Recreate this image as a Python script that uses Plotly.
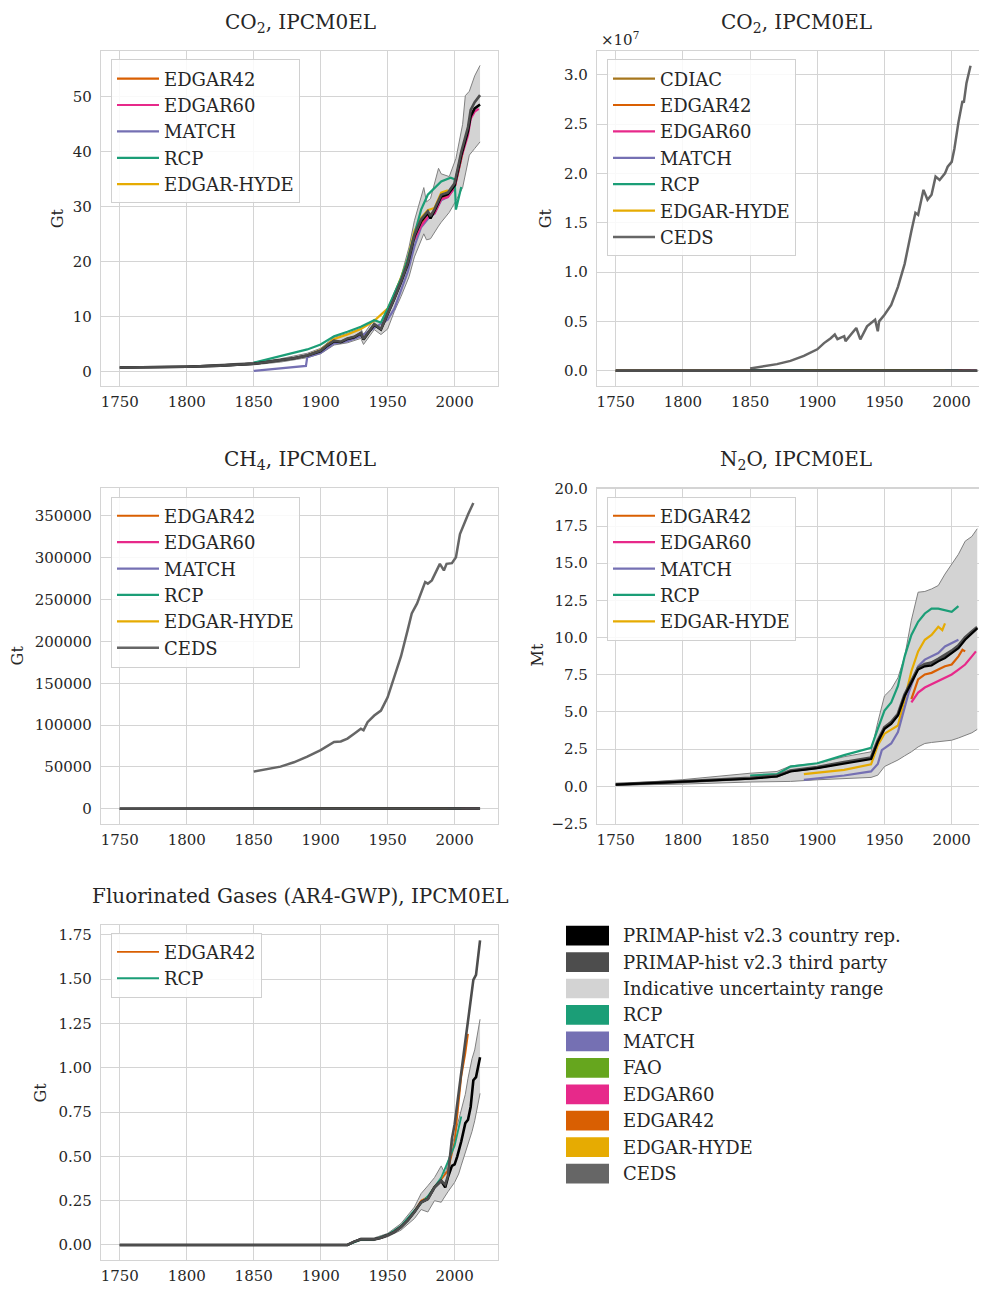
import plotly.graph_objects as go

# The page body keeps an 8 px margin, so the figure is drawn 16 px smaller
# and every reference pixel position is shifted by this offset.
OFF = 8
W, H = 987 - 2 * OFF, 1295 - 2 * OFF
FONT = "DejaVu Serif"
TXT = "#262626"
GRID = "#d4d4d4"

COL = {
    "PRIMAP-hist v2.3 country rep.": "#000000",
    "PRIMAP-hist v2.3 third party": "#4d4d4d",
    "Indicative uncertainty range": "#d3d3d3",
    "RCP": "#1b9e77",
    "MATCH": "#7570b3",
    "FAO": "#66a61e",
    "EDGAR60": "#e7298a",
    "EDGAR42": "#d95f02",
    "EDGAR-HYDE": "#e6ab02",
    "CEDS": "#666666",
    "CDIAC": "#a6761d",
}

# ---------------- data: CO2 (Gt) ----------------
co2_years_primap = [1750, 1775, 1800, 1825, 1850, 1860, 1870, 1880, 1890, 1900, 1905, 1910, 1915, 1920,
                    1925, 1930, 1932, 1935, 1940, 1945, 1950, 1955, 1960, 1965, 1970, 1975, 1980, 1982,
                    1985, 1990, 1995, 2000, 2005, 2010, 2012, 2015, 2019]
co2_primap_cr = [0.8, 0.85, 0.95, 1.15, 1.5, 1.8, 2.1, 2.5, 3.0, 3.8, 4.8, 5.6, 5.4, 6.0,
                 6.3, 7.0, 5.9, 7.0, 8.6, 7.7, 10.4, 13.3, 16.3, 19.6, 24.6, 27.4, 28.9, 27.9,
                 29.3, 31.9, 32.3, 33.9, 39.4, 43.8, 46.5, 47.9, 48.6]
co2_primap_tp = [0.8, 0.85, 0.95, 1.15, 1.5, 1.8, 2.1, 2.5, 3.0, 3.9, 4.9, 5.7, 5.5, 6.1,
                 6.4, 7.1, 6.0, 7.1, 8.7, 7.8, 10.5, 13.4, 16.5, 19.8, 24.9, 27.7, 29.2, 28.3,
                 29.6, 32.2, 32.6, 34.3, 40.0, 44.5, 47.6, 49.0, 50.3]
co2_band_years = [1750, 1800, 1850, 1870, 1890, 1900, 1910, 1920, 1930, 1932, 1940, 1945, 1950, 1955,
                  1960, 1966, 1970, 1977, 1979, 1982, 1988, 1990, 1996, 2001, 2006, 2008, 2011, 2015, 2019]
co2_band_upper = [0.9, 1.05, 1.75, 2.4, 3.4, 4.3, 6.3, 7.0, 7.9, 6.8, 9.6, 8.8, 11.3, 14.5,
                  17.3, 22.7, 27.5, 33.5, 30.9, 31.5, 37.0, 36.0, 35.5, 38.8, 45.0, 50.2, 51.0, 53.8, 55.7]
co2_band_lower = [0.7, 0.85, 1.3, 1.8, 2.6, 3.3, 4.9, 5.3, 6.1, 5.0, 7.7, 6.8, 7.8, 11.0,
                  13.7, 17.3, 20.9, 25.1, 24.0, 24.2, 26.5, 27.2, 29.0, 31.1, 33.5, 36.0, 39.4, 40.6, 41.8]
co2_rcp_years = [1850, 1870, 1890, 1900, 1910, 1920, 1930, 1940, 1945, 1950, 1960, 1965, 1970, 1975,
                 1980, 1990, 1997, 2000, 2001, 2005]
co2_rcp = [1.7, 2.9, 4.1, 5.0, 6.5, 7.3, 8.2, 9.4, 9.0, 11.5, 17.0, 20.5, 24.8, 29.5,
           32.2, 34.6, 35.3, 35.0, 29.5, 33.6]
co2_match_years = [1850, 1889, 1890, 1900, 1910, 1920, 1930, 1940, 1950, 1955, 1960, 1965, 1970, 1975,
                   1980, 1985, 1990, 1995, 2000, 2005]
co2_match = [0.2, 1.1, 2.7, 3.5, 5.2, 5.6, 6.5, 8.0, 9.5, 11.5, 14.8, 18.2, 22.8, 26.3,
             27.8, 28.8, 31.2, 31.8, 33.4, 38.8]
co2_hyde_years = [1890, 1900, 1910, 1920, 1930, 1940, 1950, 1955, 1960, 1965, 1970, 1975, 1980, 1985,
                  1990, 1995]
co2_hyde = [3.0, 4.0, 6.0, 6.8, 7.8, 9.3, 11.5, 14.0, 17.2, 20.5, 25.6, 28.0, 29.4, 29.8, 32.6, 33.0]
co2_e42_years = [1970, 1975, 1980, 1985, 1990, 1995, 2000, 2005, 2008]
co2_e42 = [24.3, 27.0, 28.5, 29.0, 31.5, 32.0, 33.5, 39.0, 42.0]
co2_e60_years = [1970, 1975, 1980, 1985, 1990, 1995, 2000, 2005, 2010, 2012, 2015, 2018]
co2_e60 = [24.0, 26.5, 28.2, 28.8, 31.4, 31.8, 33.5, 39.0, 43.0, 46.0, 47.3, 47.8]
co2_cdiac_years = [1750, 1800, 1850, 1900, 1950, 2000, 2014]
co2_cdiac = [0.01, 0.03, 0.2, 2.0, 6.0, 25.0, 36.0]

# CEDS CO2 in its own (mis-scaled) units
ceds_co2_years = [1850, 1870, 1880, 1890, 1900, 1905, 1910, 1913, 1915, 1920, 1921, 1925, 1929, 1932,
                  1937, 1940, 1943, 1945, 1946, 1950, 1955, 1960, 1965, 1970, 1973, 1975, 1979, 1982,
                  1985, 1988, 1991, 1995, 1997, 2000, 2002, 2005, 2008, 2009, 2011, 2014]
ceds_co2 = [230000, 670000, 1000000, 1500000, 2170000, 2800000, 3300000, 3670000, 3200000, 3500000,
            3000000, 3670000, 4330000, 3170000, 4500000, 4830000, 5170000, 4000000, 5000000, 5670000,
            6670000, 8500000, 10830000, 14170000, 16000000, 15800000, 18330000, 17330000, 17830000,
            19670000, 19330000, 20000000, 20670000, 21170000, 22500000, 25170000, 27330000, 27170000,
            29170000, 30900000]

# ---------------- data: CH4 ----------------
ceds_ch4_years = [1850, 1860, 1870, 1880, 1890, 1900, 1910, 1915, 1920, 1925, 1930, 1932, 1935, 1940,
                  1942, 1945, 1950, 1955, 1960, 1965, 1968, 1972, 1975, 1978, 1980, 1983, 1986, 1989,
                  1992, 1994, 1998, 2001, 2004, 2006, 2008, 2010, 2014]
ceds_ch4 = [44500, 47300, 50400, 55600, 62300, 70100, 80000, 80500, 83900, 89800, 95700, 93800, 103600,
            111500, 113500, 117400, 133200, 158800, 182400, 213900, 233600, 245500, 257300, 271100,
            269100, 273000, 282900, 292800, 284900, 292800, 293600, 300700, 328300, 336100, 345900,
            351800, 365600]
ch4_years = [1750, 1850, 1900, 1950, 2000, 2019]
ch4_primap_cr = [60, 110, 150, 230, 330, 370]
ch4_primap_tp = [60, 110, 150, 230, 330, 370]
ch4_rcp_years = [1850, 1900, 1950, 2000, 2005]
ch4_rcp = [130, 170, 250, 330, 340]
ch4_match_years = [1890, 1950, 2000, 2005]
ch4_match = [140, 230, 320, 330]
ch4_hyde_years = [1890, 1950, 1995]
ch4_hyde = [150, 240, 320]
ch4_e42_years = [1970, 2000, 2008]
ch4_e42 = [300, 340, 360]
ch4_e60_years = [1970, 2000, 2018]
ch4_e60 = [290, 330, 380]

# ---------------- data: N2O (Mt) ----------------
n2o_years_primap = [1750, 1800, 1850, 1870, 1880, 1900, 1920, 1940, 1945, 1950, 1955, 1960, 1965, 1970,
                    1975, 1980, 1985, 1990, 1995, 2000, 2005, 2010, 2015, 2019]
n2o_primap_cr = [0.11, 0.29, 0.51, 0.66, 1.0, 1.22, 1.55, 1.84, 2.99, 3.87, 4.2, 4.76, 6.08, 6.97,
                 7.85, 8.07, 8.12, 8.4, 8.63, 8.96, 9.29, 9.85, 10.29, 10.62]
n2o_primap_tp = [0.13, 0.31, 0.55, 0.7, 1.05, 1.28, 1.62, 1.92, 3.05, 3.95, 4.3, 4.85, 6.15, 7.05,
                 7.95, 8.2, 8.3, 8.55, 8.8, 9.1, 9.45, 10.0, 10.4, 10.7]
n2o_band_upper = [0.15, 0.45, 0.88, 1.0, 1.37, 1.55, 1.99, 2.32, 4.31, 6.08, 6.53, 7.3, 8.74, 11.17,
                  13.05, 13.1, 13.27, 13.5, 14.27, 14.93, 15.6, 16.48, 16.8, 17.32]
n2o_band_lower = [0.07, 0.15, 0.29, 0.31, 0.33, 0.44, 0.51, 0.6, 0.75, 1.33, 1.55, 1.77, 2.05, 2.32,
                  2.65, 2.88, 2.95, 2.99, 3.05, 3.1, 3.25, 3.43, 3.6, 3.83]
n2o_rcp_years = [1850, 1870, 1880, 1900, 1920, 1940, 1945, 1950, 1955, 1960, 1965, 1970, 1975, 1980,
                 1985, 1990, 2000, 2005]
n2o_rcp = [0.73, 0.82, 1.33, 1.55, 2.1, 2.59, 3.87, 5.09, 5.64, 6.75, 8.74, 10.18, 11.06, 11.62,
           11.95, 11.95, 11.73, 12.12]
n2o_hyde_years = [1890, 1920, 1940, 1945, 1950, 1960, 1965, 1970, 1975, 1980, 1985, 1990, 1993, 1995]
n2o_hyde = [0.82, 1.11, 1.48, 2.77, 3.54, 4.09, 5.86, 7.74, 9.07, 9.85, 10.18, 10.73, 10.5, 10.95]
n2o_match_years = [1890, 1920, 1940, 1945, 1948, 1955, 1960, 1965, 1968, 1975, 1980, 1990, 1995, 2005]
n2o_match = [0.44, 0.73, 1.0, 1.5, 2.43, 2.88, 3.65, 5.42, 6.3, 8.07, 8.52, 8.96, 9.4, 9.85]
n2o_e42_years = [1970, 1975, 1980, 1985, 1990, 1995, 2000, 2005, 2008, 2010]
n2o_e42 = [5.86, 7.19, 7.52, 7.63, 7.85, 8.07, 8.19, 8.74, 9.18, 9.07]
n2o_e60_years = [1970, 1975, 1980, 1985, 1990, 1995, 2000, 2005, 2010, 2015, 2018]
n2o_e60 = [5.64, 6.3, 6.64, 6.86, 7.08, 7.3, 7.52, 7.85, 8.19, 8.74, 9.07]

# ---------------- data: F-gases (Gt) ----------------
fg_years_primap = [1750, 1800, 1850, 1900, 1920, 1925, 1930, 1940, 1945, 1950, 1955, 1960, 1965, 1970,
                   1975, 1980, 1985, 1990, 1993, 1995, 1998, 2000, 2002, 2005, 2008, 2010, 2012, 2014,
                   2016, 2019]
fg_primap_cr = [0, 0, 0, 0, 0, 0.019, 0.032, 0.032, 0.041, 0.056, 0.074, 0.102, 0.139, 0.186,
                0.241, 0.26, 0.325, 0.362, 0.325, 0.381, 0.446, 0.455, 0.5, 0.585, 0.687, 0.706,
                0.78, 0.929, 0.947, 1.059]
fg_primap_tp = [0, 0, 0, 0, 0, 0.019, 0.032, 0.032, 0.041, 0.056, 0.074, 0.102, 0.139, 0.186,
                0.241, 0.26, 0.325, 0.362, 0.34, 0.39, 0.6, 0.68, 0.8, 1.0, 1.15, 1.263,
                1.375, 1.495, 1.523, 1.718]
fg_band_years = [1750, 1900, 1920, 1930, 1940, 1950, 1960, 1970, 1975, 1980, 1985, 1990, 1993, 1995,
                 2000, 2003, 2005, 2008, 2010, 2013, 2015, 2019]
fg_band_upper = [0.002, 0.002, 0.003, 0.04, 0.04, 0.065, 0.121, 0.214, 0.29, 0.334, 0.38, 0.446, 0.40,
                 0.47, 0.613, 0.70, 0.75, 0.85, 0.94, 1.05, 1.10, 1.273]
fg_band_lower = [0, 0, 0, 0.025, 0.025, 0.046, 0.084, 0.149, 0.20, 0.186, 0.25, 0.241, 0.28, 0.30,
                 0.353, 0.40, 0.45, 0.52, 0.576, 0.64, 0.70, 0.855]
fg_rcp_years = [1850, 1920, 1930, 1940, 1950, 1960, 1970, 1980, 1990, 2000, 2005]
fg_rcp = [0, 0, 0.03, 0.032, 0.058, 0.108, 0.195, 0.275, 0.38, 0.56, 0.725]
fg_e42_years = [1970, 1975, 1980, 1985, 1990, 1995, 2000, 2005, 2008, 2010]
fg_e42 = [0.19, 0.25, 0.27, 0.33, 0.37, 0.42, 0.58, 0.95, 1.08, 1.19]

# ---------------- tick labels ----------------
x_ticks = [1750, 1800, 1850, 1900, 1950, 2000]
co2_yticks = [0, 10, 20, 30, 40, 50]
ceds_yticks = [0, 5e6, 1e7, 1.5e7, 2e7, 2.5e7, 3e7]
ceds_yticktext = ["0.0", "0.5", "1.0", "1.5", "2.0", "2.5", "3.0"]
ch4_yticks = [0, 50000, 100000, 150000, 200000, 250000, 300000, 350000]
n2o_yticks = [-2.5, 0, 2.5, 5, 7.5, 10, 12.5, 15, 17.5, 20]
fg_yticks = [0, 0.25, 0.5, 0.75, 1.0, 1.25, 1.5, 1.75]

legend_labels = ["PRIMAP-hist v2.3 country rep.", "PRIMAP-hist v2.3 third party",
                 "Indicative uncertainty range", "RCP", "MATCH", "FAO", "EDGAR60", "EDGAR42",
                 "EDGAR-HYDE", "CEDS"]

# ---------------- layout geometry (reference pixels) ----------------
panels = {
    1: dict(x0=101, x1=498, y0=43, y1=383, xr=[1736.0, 2032.4], yr=[-2.55, 58.4]),
    2: dict(x0=597, x1=979, y0=43, y1=383, xr=[1736.1, 2020.3], yr=[-1.55e6, 3.245e7]),
    3: dict(x0=101, x1=498, y0=486, y1=827, xr=[1736.0, 2032.4], yr=[-18280, 383880]),
    4: dict(x0=597, x1=979, y0=486, y1=827, xr=[1736.1, 2020.3], yr=[-2.54, 20.08]),
    5: dict(x0=101, x1=498, y0=929, y1=1269, xr=[1736.0, 2032.4], yr=[-0.086, 1.806]),
}


def px(x):
    return min(max((x - OFF) / W, 0.0), 1.0)


def py(y):
    return min(max(1 - (y - OFF) / H, 0.0), 1.0)


fig = go.Figure()


def ax(i, c):
    return c if i == 1 else f"{c}{i}"


def leg(i):
    return "legend" if i == 1 else f"legend{i}"


def line(i, x, y, name, width=2.2, rank=None, show=False, color=None):
    fig.add_trace(go.Scatter(
        x=x, y=y, mode="lines", name=name,
        line=dict(color=color or COL[name], width=width),
        xaxis=ax(i, "x"), yaxis=ax(i, "y"),
        legend=leg(i), showlegend=show, legendgroup=f"{i}-{name}",
        legendrank=rank if rank else 1000, hoverinfo="skip"))


def band(i, x, lo, hi):
    fig.add_trace(go.Scatter(x=x, y=lo, mode="lines", line=dict(color="#808080", width=1),
                             xaxis=ax(i, "x"), yaxis=ax(i, "y"), showlegend=False, hoverinfo="skip"))
    fig.add_trace(go.Scatter(x=x, y=hi, mode="lines", line=dict(color="#808080", width=1),
                             fill="tonexty", fillcolor=COL["Indicative uncertainty range"],
                             xaxis=ax(i, "x"), yaxis=ax(i, "y"), showlegend=False, hoverinfo="skip"))


PR_CR = "PRIMAP-hist v2.3 country rep."
PR_TP = "PRIMAP-hist v2.3 third party"

# Panel 1
band(1, co2_band_years, co2_band_lower, co2_band_upper)
line(1, co2_match_years, co2_match, "MATCH", rank=3, show=True)
line(1, co2_hyde_years, co2_hyde, "EDGAR-HYDE", rank=5, show=True)
line(1, co2_e42_years, co2_e42, "EDGAR42", rank=1, show=True)
line(1, co2_e60_years, co2_e60, "EDGAR60", rank=2, show=True)
line(1, co2_rcp_years, co2_rcp, "RCP", rank=4, show=True)
line(1, co2_years_primap, co2_primap_cr, PR_CR, width=2.6)
line(1, co2_years_primap, co2_primap_tp, PR_TP, width=2.6)

# Panel 2
line(2, co2_cdiac_years, co2_cdiac, "CDIAC", rank=1, show=True)
line(2, co2_e42_years, co2_e42, "EDGAR42", rank=2, show=True)
line(2, co2_e60_years, co2_e60, "EDGAR60", rank=3, show=True)
line(2, co2_match_years, co2_match, "MATCH", rank=4, show=True)
line(2, co2_rcp_years, co2_rcp, "RCP", rank=5, show=True)
line(2, co2_hyde_years, co2_hyde, "EDGAR-HYDE", rank=6, show=True)
line(2, ceds_co2_years, ceds_co2, "CEDS", width=2.5, rank=7, show=True)
line(2, co2_years_primap, co2_primap_cr, PR_CR, width=2.6)
line(2, co2_years_primap, co2_primap_tp, PR_TP, width=2.6)

# Panel 3
line(3, ch4_e42_years, ch4_e42, "EDGAR42", rank=1, show=True)
line(3, ch4_e60_years, ch4_e60, "EDGAR60", rank=2, show=True)
line(3, ch4_match_years, ch4_match, "MATCH", rank=3, show=True)
line(3, ch4_rcp_years, ch4_rcp, "RCP", rank=4, show=True)
line(3, ch4_hyde_years, ch4_hyde, "EDGAR-HYDE", rank=5, show=True)
line(3, ceds_ch4_years, ceds_ch4, "CEDS", width=2.5, rank=6, show=True)
line(3, ch4_years, ch4_primap_cr, PR_CR, width=2.6)
line(3, ch4_years, ch4_primap_tp, PR_TP, width=2.6)

# Panel 4
band(4, n2o_years_primap, n2o_band_lower, n2o_band_upper)
line(4, n2o_rcp_years, n2o_rcp, "RCP", rank=4, show=True)
line(4, n2o_hyde_years, n2o_hyde, "EDGAR-HYDE", rank=5, show=True)
line(4, n2o_match_years, n2o_match, "MATCH", rank=3, show=True)
line(4, n2o_years_primap, n2o_primap_tp, PR_TP, width=3.2)
line(4, n2o_years_primap, n2o_primap_cr, PR_CR, width=2.2)
line(4, n2o_e42_years, n2o_e42, "EDGAR42", rank=1, show=True)
line(4, n2o_e60_years, n2o_e60, "EDGAR60", rank=2, show=True)

# Panel 5
band(5, fg_band_years, fg_band_lower, fg_band_upper)
line(5, fg_e42_years, fg_e42, "EDGAR42", width=1.8, rank=1, show=True)
line(5, fg_rcp_years, fg_rcp, "RCP", width=1.8, rank=2, show=True)
line(5, fg_years_primap, fg_primap_cr, PR_CR, width=2.6)
line(5, fg_years_primap, fg_primap_tp, PR_TP, width=2.6)

# ---------------- axes ----------------
ytick_cfg = {
    1: dict(tickvals=co2_yticks, ticktext=[str(v) for v in co2_yticks]),
    2: dict(tickvals=ceds_yticks, ticktext=ceds_yticktext),
    3: dict(tickvals=ch4_yticks, ticktext=[str(v) for v in ch4_yticks]),
    4: dict(tickvals=n2o_yticks, ticktext=[f"{v:.1f}".replace("-", "\u2212") for v in n2o_yticks]),
    5: dict(tickvals=fg_yticks, ticktext=[f"{v:.2f}" for v in fg_yticks]),
}
layout = dict(width=W, height=H, margin=dict(l=0, r=0, t=0, b=0, pad=0),
              paper_bgcolor="white", plot_bgcolor="white",
              font=dict(family=FONT, color=TXT, size=15))
for i, p in panels.items():
    right_cut = p["x1"] >= 979
    layout[ax(i, "xaxis")] = dict(
        domain=[px(p["x0"]), px(p["x1"])], range=p["xr"], anchor=ax(i, "y"),
        tickvals=x_ticks, ticktext=[str(v) for v in x_ticks],
        showgrid=True, gridcolor=GRID, gridwidth=1, zeroline=False,
        showline=True, linecolor=GRID, linewidth=1.2, mirror=True,
        ticks="outside", ticklen=2, tickcolor="rgba(0,0,0,0)",
        tickfont=dict(family=FONT, size=15, color=TXT))
    layout[ax(i, "yaxis")] = dict(
        domain=[py(p["y1"]), py(p["y0"])], range=p["yr"], anchor=ax(i, "x"),
        showgrid=True, gridcolor=GRID, gridwidth=1, zeroline=False,
        showline=True, linecolor=GRID, linewidth=1.2, mirror=not right_cut,
        ticks="outside", ticklen=5, tickcolor="rgba(0,0,0,0)",
        tickfont=dict(family=FONT, size=15, color=TXT), **ytick_cfg[i])

# ---------------- in-panel legends ----------------
leg_pos = {1: (111, 52), 2: (607, 52), 3: (111, 495), 4: (607, 495), 5: (111, 937)}
for i, (lx, ly) in leg_pos.items():
    layout[leg(i)] = dict(
        x=px(lx), y=py(ly), xanchor="left", yanchor="top",
        bgcolor="rgba(255,255,255,0.85)", bordercolor="#d0d0d0", borderwidth=1,
        font=dict(family=FONT, size=18, color=TXT),
        traceorder="grouped", tracegroupgap=0, itemwidth=42)

# ---------------- titles & axis labels ----------------
ann = []
titles = [(300, 15, "CO<sub>2</sub>, IPCM0EL"), (796, 15, "CO<sub>2</sub>, IPCM0EL"),
          (300, 458, "CH<sub>4</sub>, IPCM0EL"), (796, 458, "N<sub>2</sub>O, IPCM0EL"),
          (300, 900, "Fluorinated Gases (AR4-GWP), IPCM0EL")]
for x, y, t in titles:
    ann.append(dict(x=px(x), y=py(y), xref="paper", yref="paper", text=t, showarrow=False,
                    xanchor="center", yanchor="middle", font=dict(family=FONT, size=20, color=TXT)))
ylabels = [(57, 213, "Gt"), (545, 213, "Gt"), (17, 656, "Gt"), (537, 656, "Mt"), (40, 1099, "Gt")]
for x, y, t in ylabels:
    ann.append(dict(x=px(x), y=py(y), xref="paper", yref="paper", text=t, showarrow=False,
                    textangle=-90, xanchor="center", yanchor="middle",
                    font=dict(family=FONT, size=16, color=TXT)))
ann.append(dict(x=px(599), y=py(31), xref="paper", yref="paper", text="\u00d710<sup>7</sup>",
                showarrow=False, xanchor="left", yanchor="middle",
                font=dict(family=FONT, size=15, color=TXT)))

# ---------------- figure-level legend (patches) ----------------
shapes = []
row0, step = 940, 26.8
for k, lab in enumerate(legend_labels):
    yc = row0 + k * step
    shapes.append(dict(type="rect", xref="paper", yref="paper",
                       x0=px(566), x1=px(609), y0=py(yc + 10), y1=py(yc - 10),
                       fillcolor=COL[lab], line=dict(width=0)))
    ann.append(dict(x=px(621), y=py(yc), xref="paper", yref="paper", text=lab, showarrow=False,
                    xanchor="left", yanchor="middle", font=dict(family=FONT, size=18, color=TXT)))

layout["annotations"] = ann
layout["shapes"] = shapes
fig.update_layout(**layout)
fig.write_html("out.html")
